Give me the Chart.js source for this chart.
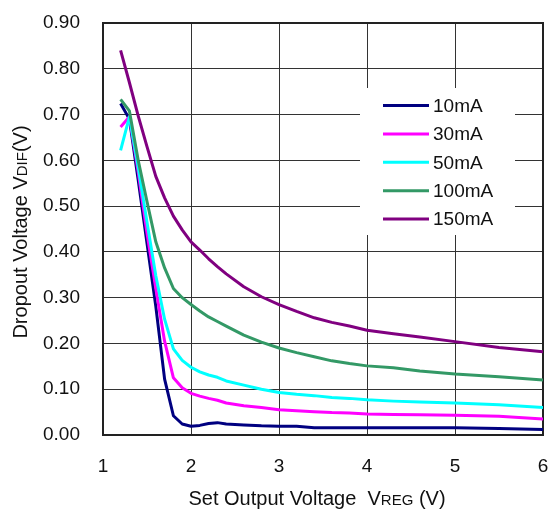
<!DOCTYPE html>
<html>
<head>
<meta charset="utf-8">
<script src="https://cdn.jsdelivr.net/npm/chart.js@4.4.1/dist/chart.umd.min.js"></script>
<style>
  html, body { margin: 0; padding: 0; background: #fff; }
  canvas { display: block; }
</style>
</head>
<body>
<canvas id="dropout" width="552" height="513"></canvas>
<script>
// Set output voltage (V)
const voltage = [1.2, 1.3, 1.4, 1.5, 1.6, 1.7, 1.8, 1.9, 2.0, 2.1, 2.2, 2.3, 2.4, 2.6, 2.8, 3.0, 3.2, 3.4, 3.6, 3.8, 4.0, 4.3, 4.6, 5.0, 5.5, 6.0];

// Dropout voltage (V) per load current
const drop10mA  = [0.724, 0.690, 0.557, 0.419, 0.281, 0.122, 0.042, 0.024, 0.019, 0.021, 0.025, 0.027, 0.024, 0.022, 0.020, 0.019, 0.019, 0.016, 0.016, 0.016, 0.016, 0.016, 0.016, 0.016, 0.014, 0.012];
const drop30mA  = [0.673, 0.695, 0.575, 0.441, 0.320, 0.205, 0.125, 0.103, 0.091, 0.085, 0.080, 0.076, 0.070, 0.064, 0.060, 0.055, 0.053, 0.051, 0.049, 0.048, 0.046, 0.045, 0.044, 0.043, 0.041, 0.035];
const drop50mA  = [0.622, 0.695, 0.585, 0.465, 0.348, 0.253, 0.188, 0.163, 0.148, 0.138, 0.131, 0.126, 0.118, 0.109, 0.100, 0.093, 0.089, 0.086, 0.082, 0.080, 0.077, 0.074, 0.072, 0.070, 0.066, 0.060];
const drop100mA = [0.733, 0.708, 0.600, 0.510, 0.422, 0.365, 0.320, 0.300, 0.285, 0.271, 0.258, 0.248, 0.238, 0.218, 0.203, 0.190, 0.180, 0.171, 0.162, 0.156, 0.151, 0.147, 0.140, 0.133, 0.127, 0.120];
const drop150mA = [0.840, 0.770, 0.697, 0.630, 0.565, 0.518, 0.478, 0.448, 0.422, 0.404, 0.385, 0.368, 0.352, 0.324, 0.302, 0.285, 0.270, 0.256, 0.246, 0.238, 0.229, 0.221, 0.214, 0.204, 0.191, 0.182];

const seriesLabels = ["10mA", "30mA", "50mA", "100mA", "150mA"];
const seriesColors = ["#000080", "#ff00ff", "#00ffff", "#339966", "#800080"];
const seriesValues = [drop10mA, drop30mA, drop50mA, drop100mA, drop150mA];

const FONT = "'Liberation Sans', Arial, sans-serif";

// white legend box inside the plot, upper right
const boxLegend = {
  id: "boxLegend",
  afterDatasetsDraw(chart) {
    const ctx = chart.ctx;
    ctx.save();
    ctx.fillStyle = "#fff";
    ctx.fillRect(360, 88, 155, 147);
    ctx.font = "19px " + FONT;
    ctx.textBaseline = "middle";
    ctx.textAlign = "left";
    chart.data.datasets.forEach((ds, i) => {
      const y = 105.5 + i * 28.4;
      ctx.strokeStyle = ds.borderColor;
      ctx.lineWidth = 3;
      ctx.beginPath();
      ctx.moveTo(383, y);
      ctx.lineTo(429, y);
      ctx.stroke();
      ctx.fillStyle = "#111";
      ctx.fillText(ds.label, 433, y + 1);
    });
    ctx.restore();
  }
};

// plot frame
const frame = {
  id: "frame",
  beforeDatasetsDraw(chart) {
    const a = chart.chartArea;
    const ctx = chart.ctx;
    ctx.save();
    ctx.strokeStyle = "#222";
    ctx.lineWidth = 2;
    ctx.strokeRect(a.left, a.top, a.right - a.left, a.bottom - a.top);
    ctx.restore();
  }
};

// write text pieces in a row, some of them in a smaller size
function drawRuns(ctx, runs, cx, baseline) {
  let total = 0;
  runs.forEach(r => { ctx.font = r[1] + "px " + FONT; total += ctx.measureText(r[0]).width; });
  let x = cx - total / 2;
  runs.forEach(r => {
    ctx.font = r[1] + "px " + FONT;
    ctx.fillText(r[0], x, baseline);
    x += ctx.measureText(r[0]).width;
  });
}

const axisTitles = {
  id: "axisTitles",
  afterDraw(chart) {
    const ctx = chart.ctx;
    const a = chart.chartArea;
    ctx.save();
    ctx.fillStyle = "#111";
    ctx.textAlign = "left";
    ctx.textBaseline = "alphabetic";
    drawRuns(ctx, [["Set Output Voltage  V", 20], ["REG", 15], [" (V)", 20]], 317, 505);
    ctx.translate(27, (a.top + a.bottom) / 2 + 3);
    ctx.rotate(-Math.PI / 2);
    drawRuns(ctx, [["Dropout Voltage V", 20], ["DIF", 15], ["(V)", 20]], 0, 0);
    ctx.restore();
  }
};

new Chart(document.getElementById("dropout"), {
  type: "line",
  data: {
    datasets: seriesValues.map((vals, i) => ({
      label: seriesLabels[i],
      data: voltage.map((v, k) => ({ x: v, y: vals[k] })),
      borderColor: seriesColors[i],
      backgroundColor: seriesColors[i],
      borderWidth: 3,
      pointRadius: 0,
      tension: 0,
      borderJoinStyle: "round",
      order: seriesValues.length - 1 - i
    }))
  },
  options: {
    responsive: false,
    animation: false,
    layout: { padding: { top: 23, right: 9, left: 0, bottom: 0 } },
    plugins: {
      legend: { display: false },
      tooltip: { enabled: false },
      title: { display: false }
    },
    scales: {
      x: {
        type: "linear",
        min: 1,
        max: 6,
        ticks: {
          stepSize: 1,
          padding: 0,
          color: "#111",
          font: { family: FONT, size: 19 }
        },
        // invisible tick marks keep the labels clear of the axis
        grid: { color: "#333", lineWidth: 1, drawTicks: true, tickLength: 20, tickColor: "rgba(0,0,0,0)" },
        border: { display: false },
        afterFit(scale) { scale.height = 78; }
      },
      y: {
        min: 0,
        max: 0.9,
        ticks: {
          stepSize: 0.1,
          padding: 0,
          color: "#111",
          font: { family: FONT, size: 19 },
          callback: v => v.toFixed(2)
        },
        grid: { color: "#333", lineWidth: 1, drawTicks: true, tickLength: 23, tickColor: "rgba(0,0,0,0)" },
        border: { display: false },
        afterFit(scale) { scale.width = 103; }
      }
    }
  },
  plugins: [frame, boxLegend, axisTitles]
});
</script>
</body>
</html>
